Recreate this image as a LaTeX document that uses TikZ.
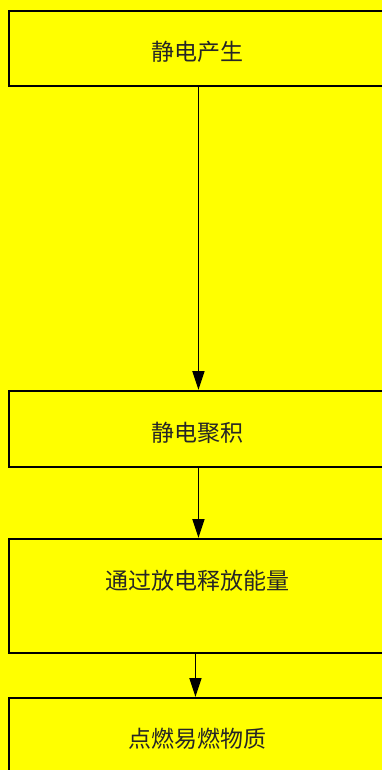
\documentclass[tikz,border=0pt]{standalone}
\usepackage{fontspec}
\newfontfamily\cjk{Noto Sans CJK SC}
\usetikzlibrary{arrows.meta}
\definecolor{bgyellow}{RGB}{255,255,0}
\begin{document}
\begin{tikzpicture}[x=1pt,y=-1pt,
  boxst/.style={draw=black,line width=1.9pt,fill=bgyellow,rectangle,inner sep=0pt,anchor=north west},
  txt/.style={font=\cjk\fontsize{23}{26}\selectfont,text=black!85,inner sep=0pt},
  arr/.style={line width=1.9pt,-{Triangle[length=19pt,width=12pt]}}]
\fill[bgyellow] (0,0) rectangle (382,770);
\useasboundingbox (0,0) rectangle (382,770);
\begin{scope}
\clip (0,0) rectangle (382,770);
\node[boxst,minimum width=378pt,minimum height=75pt] (b1) at (8,10) {};
\node[boxst,minimum width=378pt,minimum height=76pt] (b2) at (8,390) {};
\node[boxst,minimum width=378pt,minimum height=114pt] (b3) at (8,538) {};
\node[boxst,minimum width=378pt,minimum height=76pt] (b4) at (8,697) {};
\end{scope}
\node[txt] (t1) at (197,52) {静电产生};
\node[txt] (t2) at (197,433) {静电聚积};
\node[txt] (t3) at (197,581) {通过放电释放能量};
\node[txt] (t4) at (197,739) {点燃易燃物质};
\draw[arr] ([xshift=0.5pt]b1.south) -- ([xshift=0.5pt]b2.north);
\draw[arr] ([xshift=0.5pt]b2.south) -- ([xshift=0.5pt]b3.north);
\draw[arr] ([xshift=-2.5pt]b3.south) -- ([xshift=-2.5pt]b4.north);
\end{tikzpicture}
\end{document}
